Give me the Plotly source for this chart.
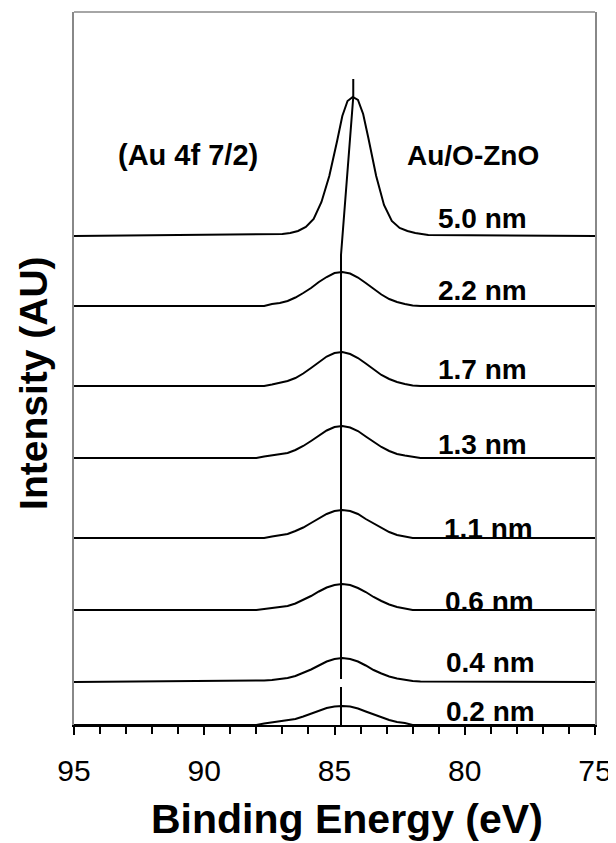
import plotly.graph_objects as go

# ---------------- data ----------------
thickness_labels = ["5.0 nm", "2.2 nm", "1.7 nm", "1.3 nm", "1.1 nm", "0.6 nm", "0.4 nm", "0.2 nm"]
offsets = [489, 419, 339, 267, 187, 115, 43, 0]

energy_5nm = [95.0, 87.3, 87.0, 86.7, 86.4, 86.1, 85.8, 85.5, 85.2, 84.9, 84.7, 84.5, 84.3,
              84.1, 83.9, 83.7, 83.4, 83.1, 82.8, 82.5, 82.2, 81.9, 81.6, 81.4, 75.0]
intensity_5nm = [0, 2, 2, 3, 5, 9, 17, 34, 60, 95, 120, 135, 139,
                 136, 122, 98, 60, 31, 15, 8, 5, 3, 2, 1, 0]

energy_thin = [95.0, 88.0, 87.7, 87.4, 87.1, 86.8, 86.5, 86.2, 85.9, 85.6, 85.3, 85.0, 84.7,
               84.4, 84.1, 83.8, 83.5, 83.2, 82.9, 82.6, 82.3, 82.0, 81.7, 75.0]
intensity_22 = [0, 0, 0, 2, 3, 5, 8.5, 13, 18, 24, 29, 33, 34, 32.5, 28.5, 23, 17, 11.5, 7, 4, 2, 0.5, 0, 0]
intensity_17 = [0, 0, 0, 1.5, 3, 5, 8, 12.5, 18, 24, 29.5, 33, 34, 32, 28, 22.5, 16.5, 11, 7, 4, 2, 0.5, 0, 0]
intensity_13 = [0, 0, 1.5, 2.5, 3.5, 5, 8, 12, 17, 22.5, 27.5, 31, 32, 30.5, 27, 21.5, 16, 11, 7, 4, 2.5, 1.5, 0, 0]
intensity_11 = [0, 0, 0, 1.5, 2.5, 4, 7, 10.5, 15, 19.5, 24, 27, 28, 27, 24, 19, 14.5, 10, 6, 3, 1.5, 0, 0, 0]
intensity_06 = [0, 0, 1, 2, 3, 4, 6.5, 10, 14, 18.5, 22.5, 25, 26, 25, 22, 18, 13, 9, 5.5, 3, 1.5, 0, 0, 0]
intensity_04 = [0, 1, 1.5, 2, 3, 4, 6, 9, 12.5, 16.5, 20.5, 23, 24, 23, 20.5, 16.5, 12, 8.5, 5.5, 3.5, 2, 1, 0.5, 0]
intensity_02 = [0, 0, 1.5, 2.5, 3.5, 4.5, 6, 8.5, 11.5, 14.5, 17, 18.5, 19, 18.5, 16.5, 13.5, 10.5, 7.5, 5, 3, 2, 0, 0, 0]

# peak-position guide line
peak_line_energy = [84.28, 84.28, 84.75, 84.75, None, 84.75, 84.75]
peak_line_intensity = [646, 628, 470, 46, None, 38, 0]

# label positions (energy, intensity)
label_energy = [79.32, 79.32, 79.32, 79.3, 79.1, 79.05, 79.0, 79.0]
label_intensity = [507, 435, 356, 281, 197, 124, 63, 14]

x_tickvals = [95, 90, 85, 80, 75]
x_ticktext = ["95", "90", "85", "80", "75"]

# ---------------- figure ----------------
series = [
    (energy_5nm, intensity_5nm),
    (energy_thin, intensity_22),
    (energy_thin, intensity_17),
    (energy_thin, intensity_13),
    (energy_thin, intensity_11),
    (energy_thin, intensity_06),
    (energy_thin, intensity_04),
    (energy_thin, intensity_02),
]

FONT = "Liberation Sans, Arial, sans-serif"
fig = go.Figure()
for (ex, iy), off, name in zip(series, offsets, thickness_labels):
    fig.add_trace(go.Scatter(x=ex, y=[v + off for v in iy], mode="lines",
                             line=dict(color="black", width=2), name=name,
                             showlegend=False, hoverinfo="skip"))

fig.add_trace(go.Scatter(x=peak_line_energy, y=peak_line_intensity, mode="lines",
                         line=dict(color="black", width=2), showlegend=False,
                         hoverinfo="skip", connectgaps=False))

for xe, yi, txt in zip(label_energy, label_intensity, thickness_labels):
    fig.add_annotation(x=xe, y=yi, text=txt, showarrow=False, xanchor="center",
                       yanchor="middle", font=dict(family=FONT, size=28, color="black", weight="bold"))

fig.add_annotation(x=90.64, y=570, text="(Au 4f 7/2)", showarrow=False, xanchor="center",
                   yanchor="middle", font=dict(family=FONT, size=29, color="black", weight="bold"))
fig.add_annotation(x=79.67, y=570, text="Au/O-ZnO", showarrow=False, xanchor="center",
                   yanchor="middle", font=dict(family=FONT, size=28, color="black", weight="bold"))

# axis titles
fig.add_annotation(xref="paper", yref="paper", x=-0.0765, y=0.48, text="Intensity (AU)",
                   textangle=-90, showarrow=False, xanchor="center", yanchor="middle",
                   font=dict(family=FONT, size=39, color="black", weight="bold"))
fig.add_annotation(xref="paper", yref="paper", x=0.524, y=-0.1318, text="Binding Energy (eV)",
                   showarrow=False, xanchor="center", yanchor="middle",
                   font=dict(family=FONT, size=41, color="black", weight="bold"))

# top frame line
fig.add_shape(type="line", xref="paper", yref="paper", x0=0, x1=1, y0=1, y1=1,
              line=dict(color="#888888", width=1.5))

# page body has an 8px default margin, so the figure is sized to fit inside it
fig.update_layout(
    width=608, height=835,
    margin=dict(l=66, r=19, t=4, b=118),
    paper_bgcolor="white", plot_bgcolor="white",
    font=dict(family=FONT, color="black"),
)
fig.update_xaxes(
    range=[95, 75], showgrid=False, zeroline=False,
    showline=True, linecolor="black", linewidth=2,
    tickmode="array", tickvals=x_tickvals, ticktext=x_ticktext,
    ticks="outside", ticklen=8, tickwidth=1.5, tickcolor="black",
    tickfont=dict(family=FONT, size=30, color="black"),
    ticklabelstandoff=10,
    minor=dict(dtick=1, ticks="outside", ticklen=7, tickwidth=1.5, tickcolor="black", showgrid=False),
)
fig.update_yaxes(
    range=[0, 713], showgrid=False, zeroline=False, showticklabels=False, ticks="",
    showline=True, linecolor="#888888", linewidth=1.5, mirror=True,
)

fig.write_html("out.html", config={"displayModeBar": False},
               post_script="document.documentElement.style.overflow='hidden';document.body.style.overflow='hidden';")
